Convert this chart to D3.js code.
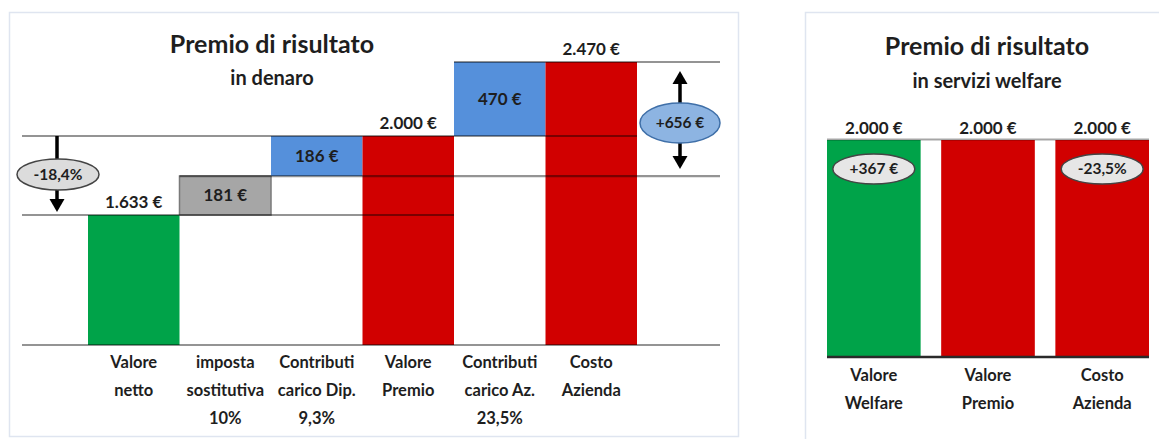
<!DOCTYPE html>
<html>
<head>
<meta charset="utf-8">
<script src="https://cdn.jsdelivr.net/npm/d3@7"></script>
<style>
  html, body { margin: 0; padding: 0; background: #ffffff; }
  svg { display: block; }
  text { font-family: Lato, "Open Sans", sans-serif; font-weight: bold; fill: #1e1e1e; }
</style>
</head>
<body>
<svg id="chart" width="1159" height="439"></svg>
<script>
// ---------- DATA ----------
const leftTitle = "Premio di risultato";
const leftSubtitle = "in denaro";
const leftCategories = [
  ["Valore", "netto"],
  ["imposta", "sostitutiva", "10%"],
  ["Contributi", "carico Dip.", "9,3%"],
  ["Valore", "Premio"],
  ["Contributi", "carico Az.", "23,5%"],
  ["Costo", "Azienda"]
];
const leftValues = [1633, 181, 186, 2000, 470, 2470];
const leftKinds = ["total", "step", "step", "total", "step", "total"];
const leftColors = ["green", "gray", "blue", "red", "blue", "red"];
const leftLabelPos = ["above", "inside", "inside", "above", "inside", "above"];
const leftDeltaLabel = "-18,4%";
const leftDeltaFrom = 2000, leftDeltaTo = 1633;
const leftGainLabel = "+656 €";
const leftGainFrom = 1814, leftGainTo = 2470;

const rightTitle = "Premio di risultato";
const rightSubtitle = "in servizi welfare";
const rightCategories = [["Valore", "Welfare"], ["Valore", "Premio"], ["Costo", "Azienda"]];
const rightValues = [2000, 2000, 2000];
const rightColors = ["green", "red", "red"];
const rightBadges = ["+367 €", null, "-23,5%"];

// ---------- STYLE ----------
const palette = { green: "#00a349", red: "#d10000", blue: "#5590db", gray: "#a6a6a6" };
const fmt = v => d3.format(",")(v).replace(/,/g, ".") + " €";
const valFont = "17px", catFont = "16.5px", badgeFont = "15.5px";

const svg = d3.select("#chart");

// panels
svg.append("rect").attr("x", 9.5).attr("y", 12.5).attr("width", 729).attr("height", 424)
  .attr("fill", "#fff").attr("stroke", "#dfe5f0").attr("stroke-width", 1.5);
svg.append("rect").attr("x", 805.5).attr("y", 12.5).attr("width", 400).attr("height", 440)
  .attr("fill", "#fff").attr("stroke", "#dfe5f0").attr("stroke-width", 1.5);

// ---------- LEFT CHART (waterfall) ----------
const L = svg.append("g");
L.append("text").attr("x", 272).attr("y", 53).attr("text-anchor", "middle")
  .style("font-size", "25px").text(leftTitle);
L.append("text").attr("x", 272).attr("y", 85).attr("text-anchor", "middle")
  .style("font-size", "20px").text(leftSubtitle);

// cumulative bases
let run = 0;
const bars = leftValues.map((v, i) => {
  let lo, hi;
  if (leftKinds[i] === "total") { lo = 0; hi = v; run = v; }
  else { lo = run; hi = run + v; run = hi; }
  return { i, v, lo, hi, kind: leftKinds[i], color: leftColors[i], cat: leftCategories[i], pos: leftLabelPos[i] };
});

const xL = d3.scaleBand().domain(d3.range(leftValues.length)).range([88, 637]).padding(0);
// drawn on a piecewise (non-uniform) axis as in the original picture
const yL = d3.scaleLinear().domain([0, 1633, 2000, 2470]).range([345, 215, 136, 62]);

L.selectAll("rect.bar").data(bars).join("rect").attr("class", "bar")
  .attr("x", d => xL(d.i)).attr("width", xL.bandwidth())
  .attr("y", d => yL(d.hi)).attr("height", d => yL(d.lo) - yL(d.hi))
  .attr("fill", d => palette[d.color])
  .attr("stroke", d => d.color === "gray" ? "#7a7a7a" : "none")
  .attr("stroke-width", 1.5);

// reference lines
const plotLeft = 22, plotRight = 720;
const refLines = [
  { level: 0, x0: plotLeft, x1: plotRight },
  { level: 1633, x0: plotLeft, x1: xL(3) + xL.bandwidth() },
  { level: 1814, x0: xL(1), x1: plotRight },
  { level: 2000, x0: plotLeft, x1: xL(5) + xL.bandwidth() },
  { level: 2470, x0: xL(4), x1: plotRight }
];
L.selectAll("line.ref").data(refLines).join("line").attr("class", "ref")
  .attr("x1", d => d.x0).attr("x2", d => d.x1)
  .attr("y1", d => yL(d.level)).attr("y2", d => yL(d.level))
  .attr("stroke", "#000").attr("stroke-opacity", 0.42).attr("stroke-width", 2.2);

// value labels
L.selectAll("text.val").data(bars).join("text").attr("class", "val")
  .attr("x", d => xL(d.i) + xL.bandwidth() / 2)
  .attr("y", d => d.pos === "above" ? yL(d.hi) - 7 : (yL(d.hi) + yL(d.lo)) / 2)
  .attr("dy", d => d.pos === "above" ? 0 : "0.35em")
  .attr("text-anchor", "middle").style("font-size", valFont)
  .text(d => fmt(d.v));

// category labels
const catG = L.selectAll("g.cat").data(bars).join("g").attr("class", "cat");
catG.selectAll("text").data(d => d.cat.map((t, k) => ({ t, k, x: xL(d.i) + xL.bandwidth() / 2 })))
  .join("text").attr("x", d => d.x).attr("y", d => 368 + d.k * 28)
  .attr("text-anchor", "middle").style("font-size", catFont).text(d => d.t);

// arrow helper
function arrowHead(g, x, tipY, dir) {
  const h = 13, w = 7.5;
  g.append("path")
    .attr("d", `M${x},${tipY} L${x - w},${tipY - dir * h} L${x + w},${tipY - dir * h} Z`)
    .attr("fill", "#000");
}

// left annotation: -18,4%
{
  const ax = 57;
  const yTop = yL(leftDeltaFrom), yBot = yL(leftDeltaTo);
  L.append("line").attr("x1", ax).attr("x2", ax).attr("y1", yTop).attr("y2", yBot - 12)
    .attr("stroke", "#000").attr("stroke-width", 3.5);
  arrowHead(L, ax, yBot - 3, 1);
  const cy = (yTop + yBot) / 2 - 1;
  L.append("ellipse").attr("cx", ax + 1).attr("cy", cy).attr("rx", 41).attr("ry", 15.5)
    .attr("fill", "#dcdcdc").attr("stroke", "#444").attr("stroke-width", 1.5);
  L.append("text").attr("x", ax + 1).attr("y", cy).attr("dy", "0.35em").attr("text-anchor", "middle")
    .style("font-size", badgeFont).text(leftDeltaLabel);
}

// right annotation: +656 €
{
  const ax = 680;
  const yTop = yL(leftGainTo), yBot = yL(leftGainFrom);
  L.append("line").attr("x1", ax).attr("x2", ax).attr("y1", yTop + 18).attr("y2", yBot - 18)
    .attr("stroke", "#000").attr("stroke-width", 3.5);
  arrowHead(L, ax, yTop + 9, -1);
  arrowHead(L, ax, yBot - 7, 1);
  const cy = (yTop + yBot) / 2 + 4;
  L.append("ellipse").attr("cx", ax).attr("cy", cy).attr("rx", 40).attr("ry", 20)
    .attr("fill", "#8db4e2").attr("stroke", "#3f6fa8").attr("stroke-width", 1.5);
  L.append("text").attr("x", ax).attr("y", cy).attr("dy", "0.35em").attr("text-anchor", "middle")
    .style("font-size", badgeFont).text(leftGainLabel);
}

// ---------- RIGHT CHART ----------
const R = svg.append("g");
R.append("text").attr("x", 987).attr("y", 55).attr("text-anchor", "middle")
  .style("font-size", "25px").text(rightTitle);
R.append("text").attr("x", 987).attr("y", 88).attr("text-anchor", "middle")
  .style("font-size", "20px").text(rightSubtitle);

const xR = d3.scaleBand().domain(d3.range(rightValues.length)).range([827, 1149])
  .paddingInner(0.18).paddingOuter(0);
const yR = d3.scaleLinear().domain([0, 2000]).range([357, 140]);

const rData = rightValues.map((v, i) => ({ i, v, color: rightColors[i], cat: rightCategories[i], badge: rightBadges[i] }));

R.selectAll("rect.bar").data(rData).join("rect").attr("class", "bar")
  .attr("x", d => xR(d.i)).attr("width", xR.bandwidth())
  .attr("y", d => yR(d.v)).attr("height", d => yR(0) - yR(d.v))
  .attr("fill", d => palette[d.color]);

R.append("line").attr("x1", 827).attr("x2", 1149).attr("y1", yR(2000) - 0.5).attr("y2", yR(2000) - 0.5)
  .attr("stroke", "#000").attr("stroke-opacity", 0.35).attr("stroke-width", 2);
R.append("line").attr("x1", 827).attr("x2", 1149).attr("y1", yR(0)).attr("y2", yR(0))
  .attr("stroke", "#2a2a2a").attr("stroke-width", 2.5);

R.selectAll("text.val").data(rData).join("text").attr("class", "val")
  .attr("x", d => xR(d.i) + xR.bandwidth() / 2).attr("y", d => yR(d.v) - 6)
  .attr("text-anchor", "middle").style("font-size", valFont).text(d => fmt(d.v));

const badgeData = rData.filter(d => d.badge);
R.selectAll("ellipse.badge").data(badgeData).join("ellipse").attr("class", "badge")
  .attr("cx", d => xR(d.i) + xR.bandwidth() / 2).attr("cy", d => yR(d.v) + 29)
  .attr("rx", 41).attr("ry", 15)
  .attr("fill", "#e6e6e6").attr("stroke", "#444").attr("stroke-width", 1.5);
R.selectAll("text.badge").data(badgeData).join("text").attr("class", "badge")
  .attr("x", d => xR(d.i) + xR.bandwidth() / 2).attr("y", d => yR(d.v) + 29).attr("dy", "0.35em")
  .attr("text-anchor", "middle").style("font-size", badgeFont).text(d => d.badge);

const rCat = R.selectAll("g.cat").data(rData).join("g").attr("class", "cat");
rCat.selectAll("text").data(d => d.cat.map((t, k) => ({ t, k, x: xR(d.i) + xR.bandwidth() / 2 })))
  .join("text").attr("x", d => d.x).attr("y", d => 381 + d.k * 28)
  .attr("text-anchor", "middle").style("font-size", catFont).text(d => d.t);
</script>
</body>
</html>
